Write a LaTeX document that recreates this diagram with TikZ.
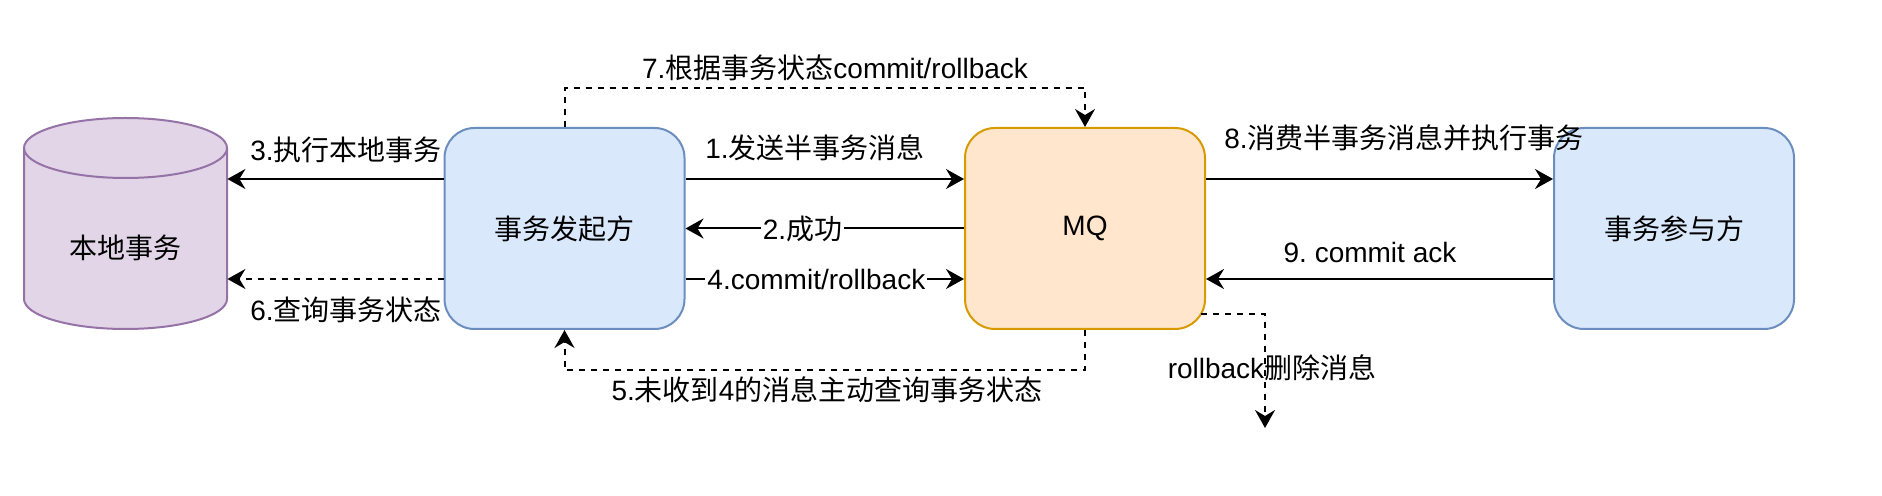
\documentclass[tikz,border=0pt]{standalone}
\usepackage{fontspec}
\setmainfont{Liberation Sans}
\newfontfamily\cjk{Noto Sans CJK SC}
\newcommand{\zh}[1]{{\cjk #1}}
\frenchspacing
\usetikzlibrary{arrows.meta,calc}
\definecolor{dbfill}{HTML}{E1D5E7}
\definecolor{dbline}{HTML}{9673A6}
\definecolor{bluefill}{HTML}{DAE8FC}
\definecolor{blueline}{HTML}{6C8EBF}
\definecolor{orfill}{HTML}{FFE6CC}
\definecolor{orline}{HTML}{D79B00}
\begin{document}
\begin{tikzpicture}[x=0.5pt,y=-0.5pt,
  txt/.style={font=\fontsize{14pt}{17pt}\selectfont, inner sep=0pt},
  boxstyle/.style={draw, line width=1pt, rounded corners=15pt, minimum width=120pt, minimum height=100.5pt, inner sep=0pt, font=\fontsize{14pt}{17pt}\selectfont},
  arr/.style={line width=1pt, -{Stealth[length=9pt,width=10pt,inset=3pt]}},
  dasharr/.style={arr, dash pattern=on 3pt off 3pt},
  onlinelbl/.style={txt, fill=white, inner xsep=1pt, inner ysep=1pt}
]
\useasboundingbox (0,0) rectangle (1882,496);
% cylinder
\node[minimum width=101.5pt, minimum height=105.5pt, inner sep=0pt] (db) at (125.5,223.5) {};
\filldraw[fill=dbfill, draw=dbline, line width=1pt]
  (24,148) -- (24,299) arc[start angle=180, end angle=0, x radius=101.5, y radius=30]
  -- (227,148) arc[start angle=0, end angle=-180, x radius=101.5, y radius=30] -- cycle;
\draw[dbline, line width=1pt] (24,148) arc[start angle=180, end angle=0, x radius=101.5, y radius=30];
\node[txt] (dbl) at (125.5,248) {\zh{本地事务}};
% boxes
\node[boxstyle, fill=bluefill, draw=blueline] (origin) at (564.5,228.5) {\zh{事务发起方}};
\node[boxstyle, fill=orfill, draw=orline] (mq) at (1085,228.5) {MQ};
\node[boxstyle, fill=bluefill, draw=blueline] (part) at (1674,228.5) {\zh{事务参与方}};
% connectors
\draw[arr] (origin.west |- 0,179) -- (db.east |- 0,179);
\draw[dasharr] (origin.west |- 0,279) -- (db.east |- 0,279);
\draw[arr] (origin.east |- 0,179) -- (mq.west |- 0,179);
\draw[arr] (mq.west) -- node[onlinelbl, pos=0.58] (l2) {2.\zh{成功}} (origin.east);
\draw[arr] (origin.east |- 0,279) -- node[onlinelbl, pos=0.47] (l4) {4.commit/rollback} (mq.west |- 0,279);
\draw[dasharr] (origin.north) -- ++(0,-39) -| (mq.north);
\draw[dasharr] (mq.south) -- ++(0,40) -| (origin.south);
\draw[arr] (mq.east |- 0,179) -- (part.west |- 0,179);
\draw[arr] (part.west |- 0,279) -- (mq.east |- 0,279);
\coordinate (rbs) at (1201,314);
\coordinate (rbe) at (1265,428);
\draw[dasharr] (rbs) -| (rbe);
% labels
\node[txt] (l3) at (346,150) {3.\zh{执行本地事务}};
\node[txt] (l6) at (346,310) {6.\zh{查询事务状态}};
\node[txt] (l1) at (815,148) {1.\zh{发送半事务消息}};
\node[txt] (l7) at (835,68) {7.\zh{根据事务状态}commit/rollback};
\node[txt] (l5) at (827,390) {5.\zh{未收到}4\zh{的消息主动查询事务状态}};
\node[txt] (l8) at (1404,138) {8.\zh{消费半事务消息并执行事务}};
\node[txt] (l9) at (1370,252) {9. commit ack};
\node[txt] (lrb) at (1272,368) {rollback\zh{删除消息}};
\end{tikzpicture}
\end{document}
